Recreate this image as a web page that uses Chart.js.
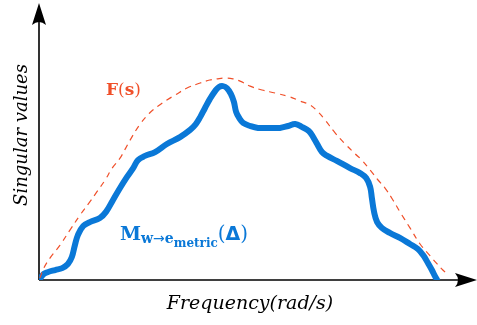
<!DOCTYPE html>
<html lang="en">
<head>
  <meta charset="UTF-8">
  <title>Singular values</title>
  <script src="https://cdn.jsdelivr.net/npm/chart.js"></script>
  <style>
    html, body { margin: 0; padding: 0; background: #fff; }
    #chart { display: block; }
  </style>
</head>
<body>
  <canvas id="chart" width="477" height="325"></canvas>
  <script>
    // Singular value curves (frequency on x, value on y, arbitrary units 0-100)
    const metricFreq = [0.2, 1.1, 2.1, 3.7, 5.3, 6.6, 7.5, 8.2, 8.9, 10.1, 11.6, 13.9, 15.3, 16.9, 18.5, 20.1, 21.5, 22.6, 24.2, 26.5, 29.2, 32.2, 34.5, 35.8, 36.8, 37.9, 39.0, 40.2, 41.1, 42.0, 42.9, 43.8, 44.5, 45.0, 45.7, 46.6, 48.2, 50.0, 52.7, 55.0, 56.9, 58.5, 60.1, 61.6, 62.6, 63.5, 64.6, 65.8, 68.0, 71.0, 73.3, 74.7, 75.6, 76.0, 76.5, 77.2, 78.3, 80.1, 82.4, 84.7, 86.5, 87.7, 88.8, 89.7, 90.4, 90.9];
    const metricVal = [0.4, 2.2, 2.9, 3.6, 4.3, 5.8, 8.3, 12.6, 16.3, 19.5, 20.9, 22.4, 24.6, 28.9, 33.2, 37.2, 40.4, 43.3, 44.8, 46.2, 49.1, 51.6, 54.2, 56.3, 58.8, 62.1, 65.3, 68.2, 69.7, 70.0, 69.3, 67.2, 64.3, 60.7, 58.5, 56.7, 55.6, 54.9, 54.9, 54.9, 55.6, 56.3, 55.2, 53.8, 51.6, 49.1, 46.2, 44.8, 43.0, 40.4, 38.6, 36.8, 33.6, 29.6, 24.6, 20.9, 18.8, 17.0, 15.2, 13.0, 11.2, 9.0, 6.1, 3.6, 1.4, 0.0];

    const boundFreq = [0.2, 1.1, 2.5, 4.8, 7.1, 9.4, 11.6, 13.2, 15.1, 16.7, 18.5, 20.8, 23.1, 25.2, 27.2, 29.2, 31.1, 33.8, 36.8, 39.0, 40.6, 42.5, 44.3, 45.9, 48.2, 50.9, 53.9, 57.3, 59.6, 61.9, 63.7, 65.3, 67.6, 69.9, 72.2, 73.7, 75.6, 77.4, 79.0, 80.8, 82.4, 84.7, 87.0, 89.3, 90.9, 92.2, 93.2];
    const boundVal = [0.7, 4.3, 7.9, 12.6, 18.1, 23.5, 28.2, 31.8, 36.1, 40.4, 44.0, 50.5, 56.3, 60.2, 62.8, 65.0, 66.8, 69.3, 71.1, 72.2, 72.6, 72.9, 72.6, 71.8, 70.0, 68.6, 67.5, 66.1, 64.6, 63.2, 60.7, 57.8, 53.1, 49.1, 45.5, 43.3, 39.7, 36.1, 33.2, 28.9, 24.6, 18.8, 13.0, 8.7, 5.8, 3.6, 2.2];

    const blue = '#0a78d7';
    const red = '#f0502a';

    const toPoints = (xs, ys) => xs.map((x, i) => ({ x: x, y: ys[i] }));

    // axes with arrow heads + math-style labels
    function arrowHead(ctx, tipX, tipY, dir) {
      // dir: 'up' or 'right'
      ctx.save();
      ctx.translate(tipX, tipY);
      if (dir === 'up') ctx.rotate(-Math.PI / 2);
      ctx.beginPath();
      ctx.moveTo(0, 0);
      ctx.lineTo(-22, -7);
      ctx.quadraticCurveTo(-16, 0, -22, 7);
      ctx.closePath();
      ctx.fillStyle = '#000';
      ctx.fill();
      ctx.restore();
    }

    const decorPlugin = {
      id: 'decor',
      beforeDatasetsDraw(chart) {
        const ctx = chart.ctx;
        const area = chart.chartArea;
        const x0 = area.left, y0 = area.bottom;
        ctx.save();
        ctx.strokeStyle = '#000';
        ctx.lineWidth = 1.6;
        ctx.beginPath();
        ctx.moveTo(x0, y0);
        ctx.lineTo(x0, area.top + 12);
        ctx.moveTo(x0, y0);
        ctx.lineTo(area.right - 12, y0);
        ctx.stroke();
        arrowHead(ctx, x0, area.top, 'up');
        arrowHead(ctx, area.right, y0, 'right');
        ctx.restore();
      },
      afterDraw(chart) {
        const ctx = chart.ctx;
        ctx.save();
        ctx.textBaseline = 'alphabetic';

        // axis titles
        ctx.fillStyle = '#000';
        ctx.font = 'italic 19px "DejaVu Serif"';
        ctx.textAlign = 'center';
        ctx.fillText('Frequency(rad/s)', 250, 309);
        ctx.font = 'italic 18px "DejaVu Serif"';
        ctx.save();
        ctx.translate(27, 135);
        ctx.rotate(-Math.PI / 2);
        ctx.fillText('Singular values', 0, 0);
        ctx.restore();

        // F(s) label
        ctx.textAlign = 'left';
        ctx.fillStyle = red;
        let x = 106;
        ctx.font = 'bold 17px "DejaVu Serif"';
        ctx.fillText('F', x, 95);
        x += ctx.measureText('F').width;
        ctx.font = '17px "DejaVu Serif"';
        ctx.fillText('(', x, 95);
        x += ctx.measureText('(').width;
        ctx.font = 'bold 17px "DejaVu Serif"';
        ctx.fillText('s', x, 95);
        x += ctx.measureText('s').width;
        ctx.font = '17px "DejaVu Serif"';
        ctx.fillText(')', x, 95);

        // M_{w->e_metric}(Delta) label
        ctx.fillStyle = blue;
        const parts = [
          ['bold 19px "DejaVu Serif"', 'M', 0],
          ['bold 14px "DejaVu Serif"', 'w', 3],
          ['14px "DejaVu Sans"', '\u2192', 3],
          ['bold 14px "DejaVu Serif"', 'e', 3],
          ['bold 12px "DejaVu Serif"', 'metric', 7],
          ['20px "DejaVu Serif"', '(', 0],
          ['bold 19px "DejaVu Sans"', '\u0394', 0],
          ['20px "DejaVu Serif"', ')', 0]
        ];
        x = 120;
        parts.forEach(([font, txt, dy]) => {
          ctx.font = font;
          ctx.fillText(txt, x, 240 + dy);
          x += ctx.measureText(txt).width;
        });
        ctx.restore();
      }
    };

    new Chart(document.getElementById('chart'), {
      type: 'line',
      data: {
        datasets: [
          {
            label: 'F(s)',
            data: toPoints(boundFreq, boundVal),
            borderColor: red,
            borderWidth: 1.2,
            borderDash: [6, 5],
            pointRadius: 0,
            tension: 0.4,
            fill: false
          },
          {
            label: 'M',
            data: toPoints(metricFreq, metricVal),
            borderColor: blue,
            borderWidth: 6,
            borderCapStyle: 'round',
            borderJoinStyle: 'round',
            pointRadius: 0,
            tension: 0.4,
            fill: false
          }
        ]
      },
      options: {
        responsive: false,
        animation: false,
        layout: { padding: { left: 39, top: 3, right: 0, bottom: 45 } },
        plugins: { legend: { display: false }, tooltip: { enabled: false } },
        scales: {
          x: { type: 'linear', min: 0, max: 100, display: false },
          y: { min: 0, max: 100, display: false }
        }
      },
      plugins: [decorPlugin]
    });
  </script>
</body>
</html>
